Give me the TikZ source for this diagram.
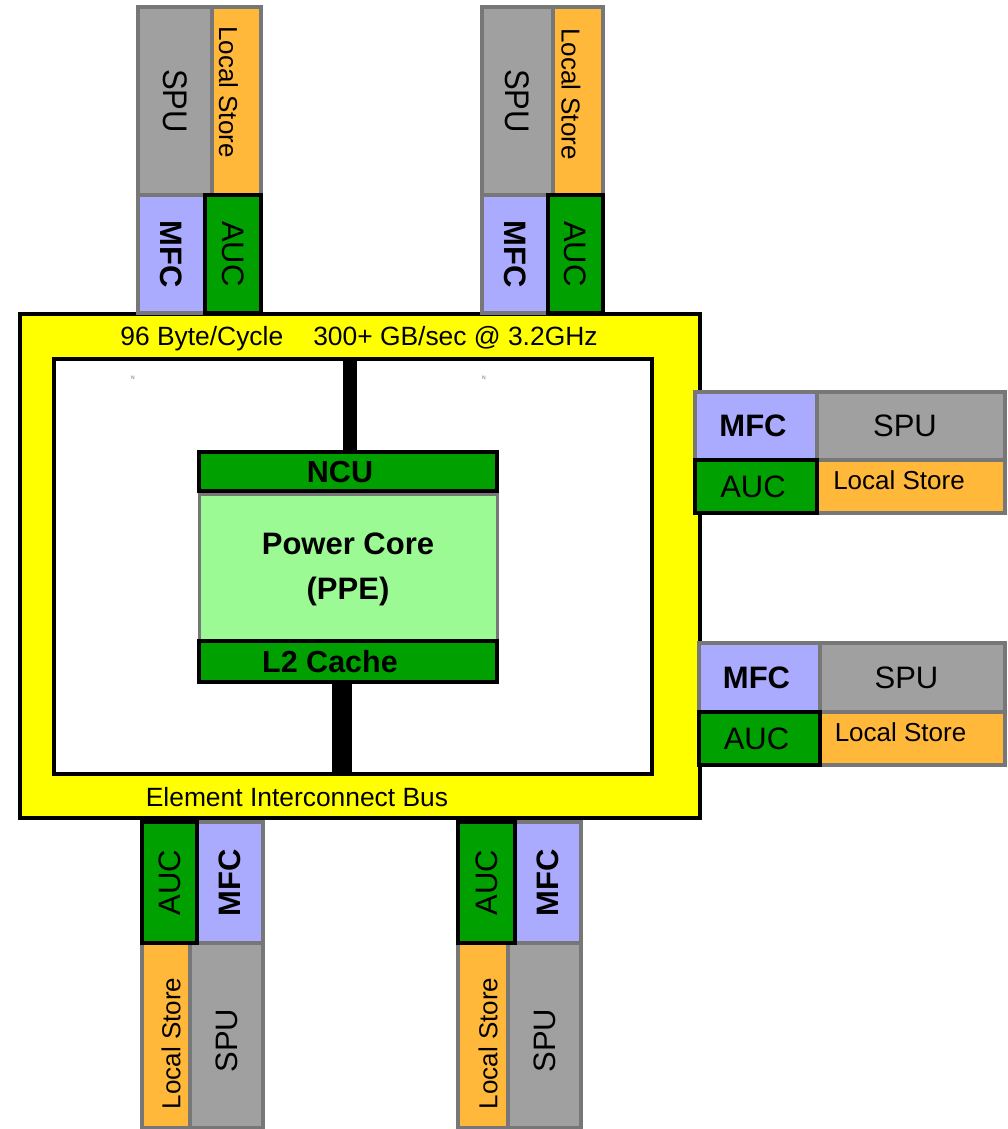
\documentclass[tikz,border=0pt]{standalone}
\usepackage{fontspec}
\setmainfont{Liberation Sans}
\usepackage{tikz}
\definecolor{ebusc}{HTML}{FFFF00}
\definecolor{aucc}{HTML}{00A000}
\definecolor{corec}{HTML}{9BFA93}
\definecolor{mfcc}{HTML}{AAAAFF}
\definecolor{spuc}{HTML}{A0A0A0}
\definecolor{lsc}{HTML}{FFB83A}
\definecolor{framec}{HTML}{777777}
\newcommand{\lstext}[2]{\raisebox{#2}[\height][\depth]{\hspace*{#1}Local Store}}
\tikzset{
  cellsize/.style 2 args={minimum width=#1*0.5pt, minimum height=#2*0.5pt},
  cellnode/.style={rectangle, draw=framec, line width=2pt, inner sep=0pt, outer sep=0pt,
    font=\fontsize{15.5}{18}\selectfont},
  spunode/.style={cellnode, fill=spuc},
  lsnode/.style={cellnode, fill=lsc, font=\fontsize{13}{15}\selectfont},
  mfcnode/.style={cellnode, fill=mfcc, font=\fontsize{15.5}{18}\selectfont\bfseries},
  aucnode/.style={cellnode, draw=black, fill=aucc},
  busnode/.style={rectangle, draw=black, line width=2pt, fill=ebusc, inner sep=0pt, outer sep=0pt},
  innernode/.style={busnode, fill=white},
  ncunode/.style={aucnode, font=\fontsize{15.25}{18}\selectfont\bfseries},
  corenode/.style={cellnode, fill=corec, line width=1.5pt, align=center,
    font=\fontsize{15.5}{22.5}\selectfont\bfseries},
  busbar/.style={draw=black, line width=7pt},
  textnode/.style={inner sep=0pt, font=\fontsize{13.2}{15}\selectfont},
  marknode/.style={inner sep=0pt, text=black!60, font=\fontsize{2.5}{3}\selectfont},
}
\begin{document}
\begin{tikzpicture}[x=0.5pt, y=-0.5pt]
  \useasboundingbox (0,0) rectangle (1007,1129);
  \node[busnode, cellsize={680}{504}] (ebus) at (360,566) {};
  \node[innernode, cellsize={598}{415}] (inner) at (353,566.5) {};
  \node[textnode] (rate) at (359,339) {96 Byte/Cycle\hspace{15pt}300+ GB/sec @ 3.2GHz};
  \node[textnode] (eib) at (297,797) {Element Interconnect Bus};
  \node[marknode] (marka) at (133,378) {N};
  \node[marknode] (markb) at (484,378) {N};
  \node[corenode, cellsize={298}{150}] (core) at (348,569) {Power Core\\(PPE)};
  \node[ncunode, cellsize={298}{39}] (ncu) at (348,471.5) {\hspace*{-8pt}NCU};
  \node[ncunode, cellsize={298}{41}] (ltwo) at (348,661.5) {\hspace*{-18pt}L2 Cache};
  \draw[busbar] ([xshift=1pt]ncu.north) -- ([xshift=1pt]ncu.north |- inner.north);
  \draw[busbar, line width=10pt] ([xshift=-3pt]ltwo.south) -- ([xshift=-3pt]ltwo.south |- inner.south);
  % top
  \node[spunode, cellsize={74}{188}] (spua) at (175,101) {\rotatebox{-90}{\scalebox{1}[1.1]{SPU}}};
  \node[lsnode, cellsize={49}{188}] (lsa) at (236.5,101) {\rotatebox{-90}{\lstext{-9pt}{-4pt}}};
  \node[mfcnode, cellsize={67}{118}] (mfca) at (171.5,254) {\rotatebox{-90}{MFC}};
  \node[aucnode, cellsize={56}{118}] (auca) at (233,254) {\rotatebox{-90}{AUC}};
  \node[spunode, cellsize={71}{188}] (spub) at (517.5,101) {\rotatebox{-90}{\scalebox{1}[1.1]{SPU}}};
  \node[lsnode, cellsize={50}{188}] (lsb) at (578,101) {\rotatebox{-90}{\lstext{-7pt}{-3.5pt}}};
  \node[mfcnode, cellsize={66}{118}] (mfcb) at (515,254) {\rotatebox{-90}{MFC}};
  \node[aucnode, cellsize={55}{118}] (aucb) at (575.5,254) {\rotatebox{-90}{AUC}};
  % right
  \node[mfcnode, cellsize={122}{68}] (mfcc) at (756,426) {\hspace*{-3pt}MFC};
  \node[spunode, cellsize={188}{68}] (spuc) at (911,426) {\hspace*{-6pt}SPU};
  \node[lsnode, cellsize={188}{53}] (lsc) at (911,486.5) {\lstext{-12pt}{3pt}};
  \node[aucnode, cellsize={122}{53}] (aucc) at (756,486.5) {\hspace*{-3pt}AUC};
  \node[mfcnode, cellsize={121}{69}] (mfcd) at (759.5,677.5) {\hspace*{-3pt}MFC};
  \node[spunode, cellsize={185}{69}] (spud) at (912.5,677.5) {\hspace*{-6pt}SPU};
  \node[lsnode, cellsize={185}{53}] (lsd) at (912.5,738.5) {\lstext{-12pt}{3pt}};
  \node[aucnode, cellsize={121}{53}] (aucd) at (759.5,738.5) {\hspace*{-3pt}AUC};
  % bottom
  \node[mfcnode, cellsize={66}{121}] (mfce) at (230,882.5) {\rotatebox{90}{MFC}};
  \node[lsnode, cellsize={48}{185}] (lse) at (166,1035.5) {\rotatebox{90}{\lstext{-8pt}{-2.5pt}}};
  \node[spunode, cellsize={73}{185}] (spue) at (226.5,1035.5) {\rotatebox{90}{\hspace*{-5pt}SPU}};
  \node[aucnode, cellsize={55}{121}] (auce) at (169.5,882.5) {\rotatebox{90}{AUC}};
  \node[mfcnode, cellsize={66}{121}] (mfcf) at (548,882.5) {\rotatebox{90}{MFC}};
  \node[lsnode, cellsize={50}{185}] (lsf) at (483,1035.5) {\rotatebox{90}{\lstext{-8pt}{-2.5pt}}};
  \node[spunode, cellsize={73}{185}] (spuf) at (544.5,1035.5) {\rotatebox{90}{\hspace*{-5pt}SPU}};
  \node[aucnode, cellsize={57}{121}] (aucf) at (486.5,882.5) {\rotatebox{90}{AUC}};
\end{tikzpicture}
\end{document}
